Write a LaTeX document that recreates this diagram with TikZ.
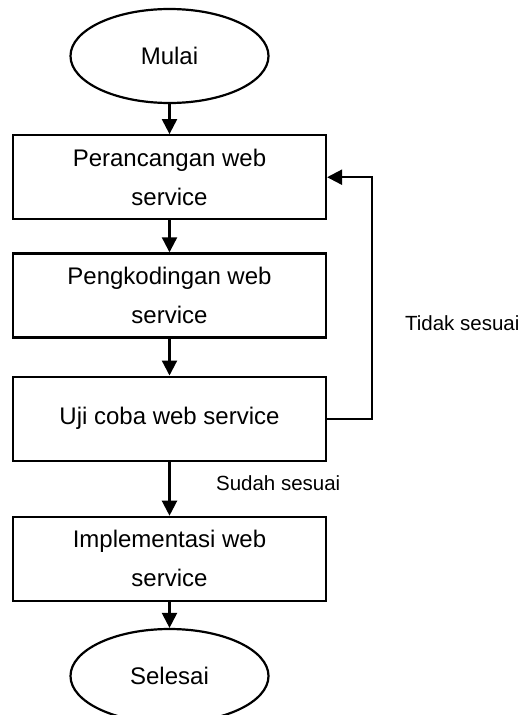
\documentclass[tikz,border=0pt]{standalone}
\usepackage{fontspec}
\setmainfont{Liberation Sans}
\usetikzlibrary{positioning,arrows.meta,shapes.geometric}

\begin{document}
\begin{tikzpicture}[
  x=1pt, y=-1pt,
  line width=2.2pt,
  terminal/.style={draw, ellipse, minimum width=198pt, minimum height=94pt, inner sep=0pt, font=\fontsize{24}{29}\selectfont},
  process/.style={draw, minimum width=313pt, minimum height=84pt, inner sep=0pt, align=center, font=\fontsize{24}{39}\selectfont},
  lbl/.style={font=\fontsize{20.5}{24}\selectfont, inner sep=0pt},
  arr/.style={-{Triangle[length=15pt,width=15pt]}}
]
  \useasboundingbox (0,0) rectangle (522,715);

  % main flow
  \node[terminal] (mulai) at (169.5,56) {Mulai};
  \node[process, below=30pt of mulai] (rancang) {Perancangan web\\service};
  \node[process, below=32pt of rancang] (kode) {Pengkodingan web\\service};
  \node[process, below=37pt of kode] (uji) {Uji coba web service};
  \node[process, below=54pt of uji] (impl) {Implementasi web\\service};
  \node[terminal, below=26pt of impl] (selesai) {Selesai};

  \draw[arr] (mulai) -- (rancang);
  \draw[arr] (rancang) -- (kode);
  \draw[arr] (kode) -- (uji);
  \draw[arr] (uji) -- (impl);
  \draw[arr] (impl) -- (selesai);

  % feedback loop
  \draw[arr] (uji.east) -- ++(45,0) |- (rancang.east);

  \node[lbl, anchor=west] (tidak) at (404,323) {Tidak sesuai};
  \node[lbl, anchor=west] (sudah) at (215,483) {Sudah sesuai};
\end{tikzpicture}
\end{document}
